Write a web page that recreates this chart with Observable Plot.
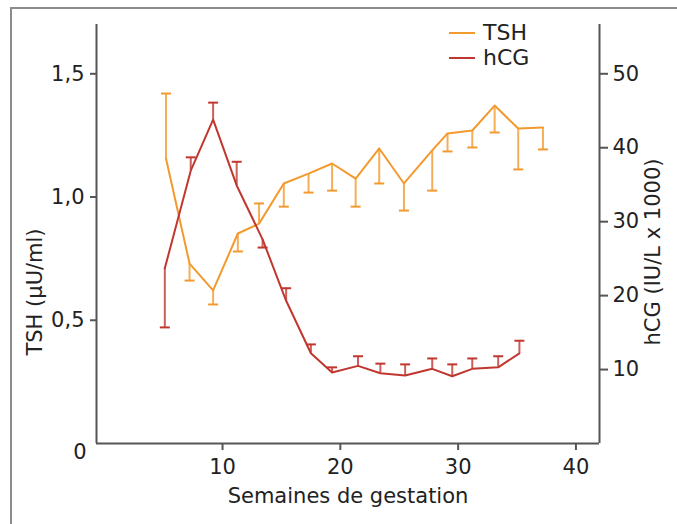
<!DOCTYPE html>
<html><head><meta charset="utf-8">
<script src="https://cdn.jsdelivr.net/npm/d3@7"></script>
<script src="https://cdn.jsdelivr.net/npm/@observablehq/plot@0.6"></script>
<style>
body{margin:0;background:#fff;}
#wrap{position:relative;width:677px;height:524px;overflow:hidden;font-family:"DejaVu Sans",sans-serif;}
#border{position:absolute;left:10px;top:7px;right:-5px;bottom:-5px;border-left:2px solid #8c8c8c;border-top:2px solid #8c8c8c;}
#chart{position:absolute;left:0;top:0;}
#legend{position:absolute;left:449px;top:20px;}
.row{display:flex;align-items:center;height:25px;font-size:22px;color:#222;}
.swatch{width:26px;height:2px;margin-right:8px;}
</style></head><body>
<div id="wrap"><div id="border"></div><div id="chart"></div><div id="legend"></div></div>
<script>
// Data
const tshWeeks = [5.2,7.2,9.2,11.3,13.1,15.2,17.3,19.3,21.3,23.3,25.4,27.8,29.1,31.2,33.1,35.1,37.2];
const tshMean  = [1.156,0.730,0.621,0.852,0.892,1.055,1.095,1.136,1.075,1.197,1.055,1.189,1.258,1.270,1.371,1.278,1.282];
const tshErrEnd= [1.420,0.661,0.564,0.779,0.974,0.961,1.018,1.026,0.961,1.055,0.945,1.026,1.185,1.201,1.262,1.112,1.193];

const hcgWeeks = [5.1,7.3,9.2,11.2,13.4,15.4,17.5,19.3,21.5,23.4,25.5,27.8,29.5,31.2,33.4,35.2];
const hcgMean  = [23.7,36.9,43.8,34.9,27.6,19.3,12.2,9.6,10.5,9.5,9.2,10.1,9.1,10.1,10.3,12.2];
const hcgErrEnd= [15.7,38.7,46.1,38.1,26.5,21.0,13.4,10.3,11.8,10.8,10.7,11.5,10.7,11.5,11.8,13.9];

const xTicks = [10,20,30,40];
const tshTicks = [0.5,1.0,1.5];
const hcgTicks = [10,20,30,40,50];
const seriesNames = ["TSH","hCG"];
const xTitle = "Semaines de gestation";
const yTitleLeft = "TSH (µU/ml)";
const yTitleRight = "hCG (IU/L x 1000)";

const tshColor = "#F39A2E";
const hcgColor = "#C1372F";
const k = 0.03; // hCG -> TSH axis units (50 <-> 1.5)
const xDomain = [-0.7, 42];
const yDomain = [0, 1.7];

const tsh = tshWeeks.map((w,i)=>({w, v: tshMean[i], e: tshErrEnd[i]}));
const hcg = hcgWeeks.map((w,i)=>({w, v: hcgMean[i]*k, e: hcgErrEnd[i]*k}));
const cap = {draw(ctx){ ctx.moveTo(-5,0); ctx.lineTo(5,0); }};

const axisColor = "#555";
const chart = Plot.plot({
  width: 677, height: 524,
  marginLeft: 96, marginRight: 78, marginTop: 24, marginBottom: 81,
  style: {fontFamily: "DejaVu Sans, sans-serif", fontSize: "21px", color: "#222", background: "transparent", overflow: "visible"},
  x: {domain: xDomain},
  y: {domain: yDomain},
  marks: [
    Plot.ruleY([yDomain[0]], {stroke: axisColor, strokeWidth: 2}),
    Plot.ruleX(xDomain, {stroke: axisColor, strokeWidth: 2}),
    Plot.axisX({ticks: xTicks, tickFormat: d => String(d), tickSize: 7, tickPadding: 9, label: null, stroke: axisColor, strokeWidth: 2}),
    Plot.axisY({anchor: "left", ticks: tshTicks, tickFormat: d => d.toFixed(1).replace(".", ","), tickSize: 6, tickPadding: 6, label: null, stroke: axisColor, strokeWidth: 2}),
    Plot.axisY({anchor: "left", ticks: [0], tickFormat: () => "0", tickSize: 0, tickPadding: 10, dy: 9, label: null}),
    Plot.axisY({anchor: "right", ticks: hcgTicks.map(v => v*k), tickFormat: d => String(Math.round(d/k)), tickSize: 8, tickPadding: 5, label: null, stroke: axisColor, strokeWidth: 2}),
    Plot.text([xTitle], {frameAnchor: "bottom", dy: 59, fontSize: 21}),
    Plot.text([yTitleLeft], {frameAnchor: "left", rotate: -90, textAnchor: "middle", dx: -61, dy: 58, fontSize: 21}),
    Plot.text([yTitleRight], {frameAnchor: "right", rotate: -90, textAnchor: "middle", dx: 54, dy: 18, fontSize: 21}),
    // TSH
    Plot.ruleX(tsh, {x: "w", y1: "v", y2: "e", stroke: tshColor, strokeWidth: 2, strokeOpacity: 0.8}),
    Plot.dot(tsh, {x: "w", y: "e", symbol: cap, r: 5, stroke: tshColor, strokeWidth: 2, fill: "none"}),
    Plot.line(tsh, {x: "w", y: "v", stroke: tshColor, strokeWidth: 2}),
    // hCG
    Plot.ruleX(hcg, {x: "w", y1: "v", y2: "e", stroke: hcgColor, strokeWidth: 2, strokeOpacity: 0.8}),
    Plot.dot(hcg, {x: "w", y: "e", symbol: cap, r: 5, stroke: hcgColor, strokeWidth: 2, fill: "none"}),
    Plot.line(hcg, {x: "w", y: "v", stroke: hcgColor, strokeWidth: 2})
  ]
});
document.getElementById("chart").appendChild(chart);

const legend = document.getElementById("legend");
[[seriesNames[0], tshColor], [seriesNames[1], hcgColor]].forEach(([name, col]) => {
  const row = document.createElement("div");
  row.className = "row";
  const sw = document.createElement("div");
  sw.className = "swatch"; sw.style.background = col;
  const t = document.createElement("span"); t.textContent = name;
  row.appendChild(sw); row.appendChild(t);
  legend.appendChild(row);
});
</script>
</body></html>
